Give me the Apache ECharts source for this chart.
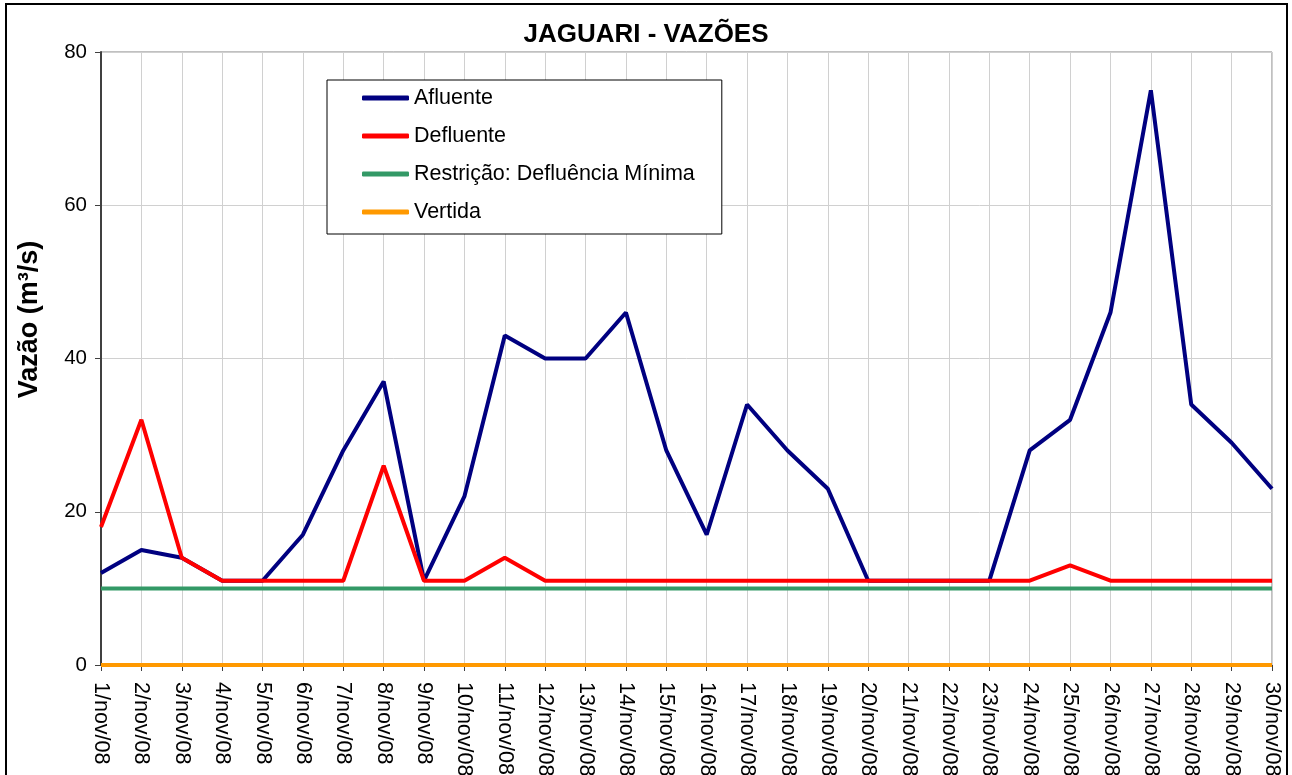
<!DOCTYPE html>
<html>
<head>
<meta charset="utf-8">
<script src="https://cdn.jsdelivr.net/npm/echarts@6/dist/echarts.min.js"></script>
<style>
  html, body { margin: 0; padding: 0; background: #fff; }
  #main { width: 1292px; height: 775px; }
</style>
</head>
<body>
<div id="main"></div>
<script>
// dias de novembro/2008
var dias = [];
for (var d = 1; d <= 30; d++) dias.push(d + '/nov/08');

var afluente = [12, 15, 14, 11, 11, 17, 28, 37, 11, 22, 43, 40, 40, 46, 28, 17, 34, 28, 23, 11, 11, 11, 11, 28, 32, 46, 75, 34, 29, 23];
var defluente = [18, 32, 14, 11, 11, 11, 11, 26, 11, 11, 14, 11, 11, 11, 11, 11, 11, 11, 11, 11, 11, 11, 11, 11, 13, 11, 11, 11, 11, 11];
var restricao = [10, 10, 10, 10, 10, 10, 10, 10, 10, 10, 10, 10, 10, 10, 10, 10, 10, 10, 10, 10, 10, 10, 10, 10, 10, 10, 10, 10, 10, 10];
var vertida = [0, 0, 0, 0, 0, 0, 0, 0, 0, 0, 0, 0, 0, 0, 0, 0, 0, 0, 0, 0, 0, 0, 0, 0, 0, 0, 0, 0, 0, 0];

var fonte = 'Liberation Sans, Arial, sans-serif';

var myChart = echarts.init(document.getElementById('main'));

function serie(nome, dados, cor, z) {
    return {
        name: nome,
        type: 'line',
        data: dados,
        symbol: 'none',
        z: z,
        lineStyle: { color: cor, width: 4 },
        itemStyle: { color: cor }
    };
}

var option = {
    animation: false,
    backgroundColor: '#fff',
    textStyle: { fontFamily: fonte },
    title: {
        text: 'JAGUARI - VAZÕES',
        left: 'center',
        top: 17,
        textStyle: { fontSize: 26, fontWeight: 'bold', color: '#000', fontFamily: fonte }
    },
    graphic: [{
        type: 'rect',
        shape: { x: 6, y: 4, width: 1281, height: 800 },
        style: { fill: 'none', stroke: '#000', lineWidth: 2 },
        z: -1
    }],
    legend: {
        orient: 'vertical',
        left: 327,
        top: 80,
        data: ['Afluente', 'Defluente', 'Restrição: Defluência Mínima', 'Vertida'],
        icon: 'roundRect',
        itemWidth: 47,
        itemHeight: 5,
        itemGap: 16,
        padding: [7, 27, 11, 35],
        backgroundColor: '#fff',
        borderColor: '#000',
        borderWidth: 1,
        textStyle: { fontSize: 21.5, color: '#000', fontFamily: fonte, lineHeight: 22 }
    },
    grid: {
        left: 101,
        right: 20,
        top: 52,
        bottom: 110,
        outerBoundsMode: 'none',
        show: true,
        borderColor: '#808080',
        borderWidth: 1
    },
    xAxis: {
        type: 'category',
        data: dias,
        boundaryGap: false,
        axisLine: { lineStyle: { color: '#404040', width: 1 } },
        axisTick: { show: true, length: 6, interval: 0, lineStyle: { color: '#404040' } },
        axisLabel: { rotate: -90, interval: 0, margin: 17, fontSize: 21.5, color: '#000', fontFamily: fonte },
        splitLine: { show: true, interval: 0, lineStyle: { color: '#d0d0d0', width: 1 } }
    },
    yAxis: {
        type: 'value',
        min: 0,
        max: 80,
        interval: 20,
        name: 'Vazão (m³/s)',
        nameLocation: 'middle',
        nameGap: 58,
        nameTextStyle: { fontSize: 27, fontWeight: 'bold', color: '#000', fontFamily: fonte, padding: [0, 0, 0, 78] },
        axisLine: { show: true, lineStyle: { color: '#404040', width: 2 } },
        axisTick: { show: true, length: 6, inside: false, lineStyle: { color: '#404040' } },
        axisLabel: { margin: 14, fontSize: 20.5, color: '#000', fontFamily: fonte },
        splitLine: { show: true, lineStyle: { color: '#d0d0d0', width: 1 } }
    },
    series: [
        serie('Afluente', afluente, '#000080', 4),
        serie('Defluente', defluente, '#ff0000', 5),
        serie('Restrição: Defluência Mínima', restricao, '#339966', 3),
        serie('Vertida', vertida, '#ff9900', 6)
    ]
};

myChart.setOption(option);
</script>
</body>
</html>
